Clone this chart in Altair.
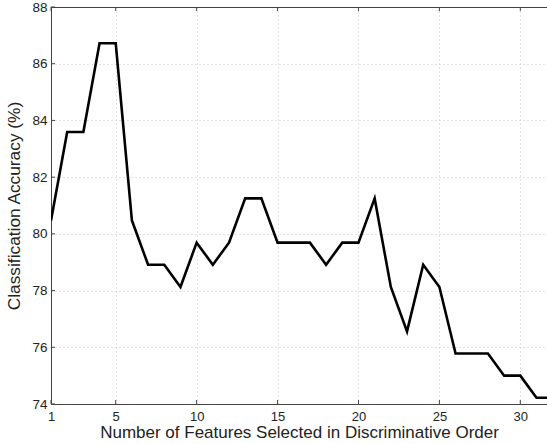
import altair as alt
import pandas as pd

# Classification accuracy as features are added in discriminative order
n_features = list(range(1, 33))
accuracy = [
    80.47, 83.59, 83.59, 86.72, 86.72, 80.47, 78.91, 78.91, 78.125, 79.69,
    78.91, 79.69, 81.25, 81.25, 79.69, 79.69, 79.69, 78.91, 79.69, 79.69,
    81.25, 78.125, 76.56, 78.91, 78.125, 75.78, 75.78, 75.78, 75.0, 75.0,
    74.22, 74.22,
]
x_ticks = [1, 5, 10, 15, 20, 25, 30]
y_ticks = [74, 76, 78, 80, 82, 84, 86, 88]

df = pd.DataFrame({"n": n_features, "acc": accuracy})
xt = pd.DataFrame({"n": x_ticks})
yt = pd.DataFrame({"acc": y_ticks})

FONT = "Liberation Sans"
FRAME = "#444444"
W, H = 496, 397
TICK = 4

x_scale = alt.Scale(domain=[1, 31.65], nice=False, zero=False)
y_scale = alt.Scale(domain=[74, 88], nice=False, zero=False)

line = alt.Chart(df).mark_line(color="black", strokeWidth=2.6, clip=True).encode(
    x=alt.X(
        "n:Q",
        scale=x_scale,
        axis=alt.Axis(
            title="Number of Features Selected in Discriminative Order",
            values=x_ticks,
            format="d",
            grid=True,
            gridColor="#c4c4c4",
            gridDash=[1, 3],
            gridWidth=1,
            ticks=False,
            domainColor=FRAME,
            labelFont=FONT,
            labelFontSize=13,
            labelColor="#222222",
            labelPadding=6,
            labelFlush=False,
            labelOverlap=False,
            titleFont=FONT,
            titleFontSize=17,
            titleFontWeight="normal",
            titleColor="#222222",
            titlePadding=1,
        ),
    ),
    y=alt.Y(
        "acc:Q",
        scale=y_scale,
        axis=alt.Axis(
            title="Classification Accuracy (%)",
            values=y_ticks,
            grid=True,
            gridColor="#c4c4c4",
            gridDash=[1, 3],
            gridWidth=1,
            ticks=False,
            domainColor=FRAME,
            labelFont=FONT,
            labelFontSize=13.5,
            labelColor="#222222",
            labelPadding=4,
            labelOverlap=False,
            titleFont=FONT,
            titleFontSize=17.3,
            titleFontWeight="normal",
            titleColor="#222222",
            titlePadding=8,
        ),
    ),
)

# inward-pointing tick marks on the bottom, top and left edges
bottom_ticks = alt.Chart(xt).mark_rule(color=FRAME, strokeWidth=1).encode(
    x=alt.X("n:Q", scale=x_scale), y=alt.value(H), y2=alt.value(H - TICK)
)
top_ticks = alt.Chart(xt).mark_rule(color=FRAME, strokeWidth=1).encode(
    x=alt.X("n:Q", scale=x_scale), y=alt.value(0), y2=alt.value(TICK)
)
left_ticks = alt.Chart(yt).mark_rule(color=FRAME, strokeWidth=1).encode(
    y=alt.Y("acc:Q", scale=y_scale), x=alt.value(0), x2=alt.value(TICK)
)

# solid frame edge along the top of the plot area
top_edge = alt.Chart(xt).mark_rule(color=FRAME, strokeWidth=1).encode(
    x=alt.value(0), x2=alt.value(W), y=alt.value(0.5)
)

chart = alt.layer(line, bottom_ticks, top_ticks, left_ticks, top_edge).properties(
    width=W,
    height=H,
    autosize=alt.AutoSizeParams(type="none"),
    padding={"left": 51, "top": 7, "right": 0, "bottom": 40},
).configure_view(stroke=FRAME, strokeWidth=1)

chart.save("out.html", embed_options={"renderer": "svg", "actions": False})
